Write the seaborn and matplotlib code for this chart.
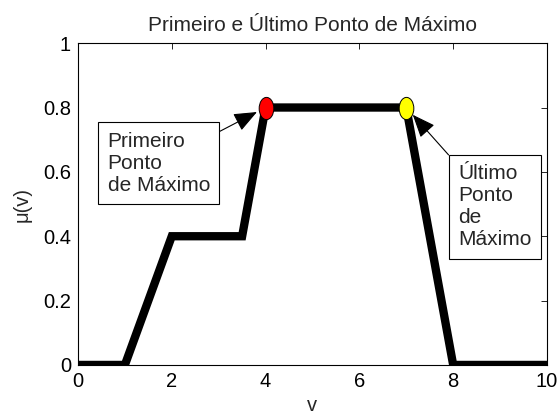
import numpy as np
import matplotlib
matplotlib.use('Agg')
import matplotlib.pyplot as plt
import seaborn as sns
from matplotlib.path import Path

# Data
v = [0, 1, 2, 3.5, 4, 7, 8, 10]
mu = [0, 0, 0.4, 0.4, 0.8, 0.8, 0, 0]
first_max_x, first_max_y = [4], [0.8]
last_max_x, last_max_y = [7], [0.8]
xticks = [0, 2, 4, 6, 8, 10]
yticks = [0, 0.2, 0.4, 0.6, 0.8, 1]
ytick_labels = ["0", "0.2", "0.4", "0.6", "0.8", "1"]
title = "Primeiro e Último Ponto de Máximo"
first_label = "Primeiro\nPonto\nde Máximo"
last_label = "Último\nPonto\nde\nMáximo"

sns.set_style('white')
plt.rcParams['font.family'] = ['Liberation Sans', 'DejaVu Sans']

fig = plt.figure(figsize=(5.59, 4.19), dpi=100)
ax = fig.add_axes([0.1395, 0.129, 0.839, 0.768])

sns.lineplot(x=v, y=mu, ax=ax, color='black', lw=6, estimator=None)
for ln in ax.lines:
    ln.set_solid_joinstyle('miter')
    ln.set_solid_capstyle('butt')

circ = Path.unit_circle()
ell = Path(circ.vertices * np.array([0.66, 1.0]), circ.codes)
ax.plot(first_max_x, first_max_y, linestyle='none', marker=ell, markersize=16,
        markerfacecolor='red', markeredgecolor='black', markeredgewidth=0.7, zorder=5)
ax.plot(last_max_x, last_max_y, linestyle='none', marker=ell, markersize=16,
        markerfacecolor='yellow', markeredgecolor='black', markeredgewidth=0.7, zorder=5)

ax.set_xlim(0, 10)
ax.set_ylim(0, 1)
ax.set_xticks(xticks)
ax.set_xticklabels([str(t) for t in xticks])
ax.set_yticks(yticks)
ax.set_yticklabels(ytick_labels)
ax.tick_params(direction='in', length=4, width=0.6, top=True, right=True,
               labelsize=14.5, pad=5, colors='black')
for s in ax.spines.values():
    s.set_visible(True)
    s.set_color('black')
    s.set_linewidth(0.8)

ax.set_title(title, fontsize=15, pad=9)
ax.set_xlabel('v', fontsize=14.5, labelpad=4)
ax.set_ylabel('μ(v)', fontsize=14.5, labelpad=8)

bbox = dict(boxstyle='square,pad=0.45', fc='white', ec='black', lw=0.8)
arrow = dict(arrowstyle='-|>,head_length=1.1,head_width=0.45', lw=0.8, color='black',
             shrinkA=0, shrinkB=7, mutation_scale=13)
ax.annotate(first_label, xy=(first_max_x[0], first_max_y[0]), xytext=(0.63, 0.725),
            textcoords='data', ha='left', va='top', fontsize=15, linespacing=1.2,
            bbox=bbox, arrowprops=arrow, zorder=6)
ax.annotate(last_label, xy=(last_max_x[0], last_max_y[0]), xytext=(8.11, 0.623),
            textcoords='data', ha='left', va='top', fontsize=15, linespacing=1.2,
            bbox=bbox, arrowprops=arrow, zorder=6)

fig.savefig('out.png', dpi=100)
